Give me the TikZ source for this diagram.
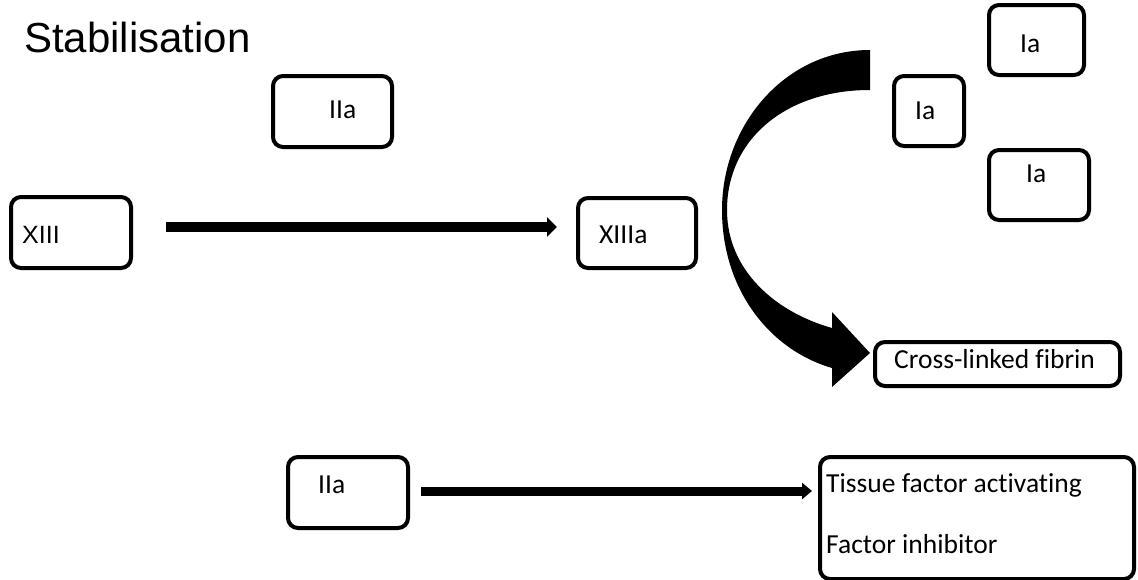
\documentclass[tikz,border=0pt]{standalone}
\usepackage{fontspec}
\setmainfont{Carlito}[Ligatures={NoCommon}]
\newfontfamily\arialfont{Liberation Sans}
\usetikzlibrary{arrows.meta}
\begin{document}
\begin{tikzpicture}[x=1pt,y=-1pt,
  box/.style={draw=black,line width=4pt,rounded corners=10pt,outer sep=0pt,inner sep=0pt,fill=white},
  lbl/.style={anchor=base west,inner sep=0pt,font=\fontsize{27.5}{30}\selectfont},
  fatarrow/.style={line width=#1,-{Triangle[length=10pt,width=19pt]}},
]
\useasboundingbox[fill=white] (0,0) rectangle (1138,579);

% title
\node[anchor=base west,inner sep=0pt,font=\arialfont\fontsize{42}{46}\selectfont] (title) at (24,52) {Stabilisation};

% boxes
\node[box,minimum width=119pt,minimum height=71pt] (iia) at (332.5,111.5) {};
\node[lbl] (iiat) at (329,118) {IIa};

\node[box,minimum width=120pt,minimum height=71pt] (xiii) at (71,232.5) {};
\node[lbl,font=\arialfont\fontsize{25}{28}\selectfont] (xiiit) at (22,243) {XIII};

\node[box,minimum width=118pt,minimum height=70pt] (xiiia) at (637,233) {};
\node[lbl] (xiiiat) at (599,243) {XIIIa};

\node[box,minimum width=95pt,minimum height=70pt] (ia1) at (1036.5,40) {};
\node[lbl] (ia1t) at (1020,52) {Ia};

\node[box,minimum width=70pt,minimum height=70pt] (ia2) at (929,111) {};
\node[lbl] (ia2t) at (915,119) {Ia};

\node[box,minimum width=100pt,minimum height=70pt] (ia3) at (1039,185) {};
\node[lbl] (ia3t) at (1026,182) {Ia};

\node[box,minimum width=245pt,minimum height=44pt] (clf) at (997.5,364) {};
\node[lbl] (clft) at (894,368) {Cross-linked fibrin};

\node[box,minimum width=120pt,minimum height=71pt] (iib) at (348,492.5) {};
\node[lbl] (iibt) at (318,493) {IIa};

\node[box,minimum width=314pt,minimum height=122pt] (tis) at (977,518) {};
\node[lbl] (tist1) at (826,492) {Tissue factor activating};
\node[lbl] (tist2) at (826,553) {Factor inhibitor};

% straight arrows
\draw[fatarrow=10pt,shorten <=35pt,shorten >=21pt]
  ([yshift=5.5pt]xiii.east) -- ([yshift=5.5pt]xiii.east -| xiiia.west);
\draw[fatarrow=9pt,shorten <=13pt,shorten >=8pt,-{Triangle[length=10pt,width=16pt]}]
  ([yshift=1.5pt]iib.east) -- ([yshift=1.5pt]iib.east -| tis.west);

% curved block arrow
\coordinate (ctop) at (870,50);
\coordinate (ctip) at (870,353);
\fill[black] (ctop) .. controls (785,50) and (722,125) .. (722,210)
  .. controls (722,290) and (770,350) .. (832,368)
  -- (832,387) -- (ctip) -- (832,312) -- (832,328)
  .. controls (775,312) and (727,270) .. (727,210)
  .. controls (727,140) and (785,90) .. (870,90) -- cycle;
\end{tikzpicture}
\end{document}
